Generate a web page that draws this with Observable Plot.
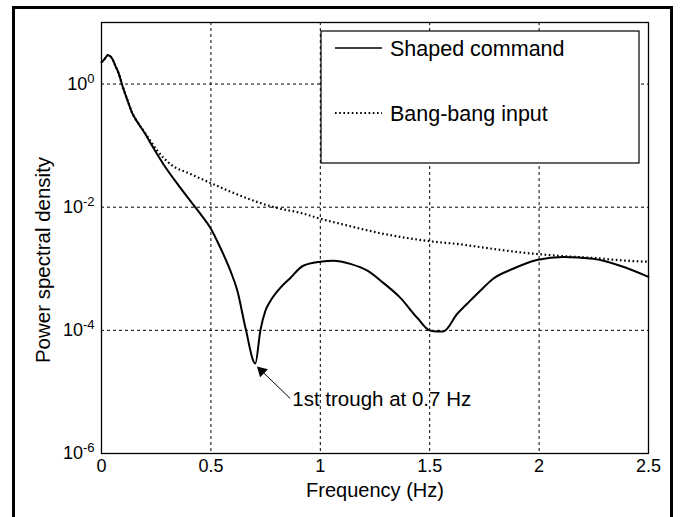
<!DOCTYPE html>
<html><head><meta charset="utf-8">
<script src="https://cdn.jsdelivr.net/npm/d3@7"></script>
<script src="https://cdn.jsdelivr.net/npm/@observablehq/plot@0.6"></script>
<style>
html,body{margin:0;padding:0;background:#fff;overflow:hidden;}
#wrap{position:relative;width:681px;height:517px;}
#border{position:absolute;left:12px;top:6px;width:655px;height:540px;border:3px solid #000;pointer-events:none;}
</style></head>
<body><div id="wrap"><div id="chart"></div><div id="border"></div></div>
<script>
// ---- data ----
const freqShaped = [0, 0.01, 0.03, 0.05, 0.064, 0.078, 0.096, 0.12, 0.14, 0.17, 0.2, 0.224, 0.283, 0.347, 0.406, 0.452, 0.498, 0.543, 0.589, 0.621, 0.658, 0.703, 0.726, 0.749, 0.772, 0.817, 0.863, 0.922, 1.0, 1.06, 1.137, 1.215, 1.288, 1.365, 1.443, 1.502, 1.534, 1.562, 1.626, 1.671, 1.731, 1.79, 1.881, 1.995, 2.11, 2.247, 2.37, 2.5];
const psdShaped = [2.27, 2.45, 2.95, 2.55, 1.96, 1.51, 0.93, 0.53, 0.34, 0.224, 0.155, 0.110, 0.050, 0.0239, 0.0127, 0.0078, 0.0046, 0.0022, 9.3e-4, 4.4e-4, 1.1e-4, 2.9e-5, 9.9e-5, 2.08e-4, 3.0e-4, 4.9e-4, 7.1e-4, 1.12e-3, 1.30e-3, 1.35e-3, 1.20e-3, 9.3e-4, 5.9e-4, 3.4e-4, 1.6e-4, 9.9e-5, 9.6e-5, 9.6e-5, 1.86e-4, 2.7e-4, 4.4e-4, 6.9e-4, 1.0e-3, 1.40e-3, 1.56e-3, 1.45e-3, 1.12e-3, 7.4e-4];
const freqBang = [0, 0.01, 0.03, 0.05, 0.064, 0.078, 0.096, 0.12, 0.14, 0.17, 0.2, 0.224, 0.256, 0.315, 0.406, 0.498, 0.603, 0.726, 0.804, 0.909, 1.0, 1.091, 1.288, 1.502, 1.639, 1.75, 1.945, 2.096, 2.247, 2.402, 2.5];
const psdBang = [2.27, 2.45, 2.95, 2.55, 1.96, 1.51, 0.93, 0.53, 0.34, 0.226, 0.16, 0.119, 0.082, 0.050, 0.0347, 0.0248, 0.0171, 0.0117, 0.0097, 0.0081, 0.0065, 0.0054, 0.0037, 0.0028, 0.0025, 0.0022, 0.0018, 0.00162, 0.0015, 0.00135, 0.0013];

const seriesNames = ["Shaped command", "Bang-bang input"];
const xTicks = [0, 0.5, 1, 1.5, 2, 2.5];
const xTickLabels = ["0", "0.5", "1", "1.5", "2", "2.5"];
const xGrid = [0.5, 1, 1.5, 2];
const yTicks = [1e-6, 1e-4, 1e-2, 1];
const yTickExponents = ["-6", "-4", "-2", "0"];
const yGrid = [1e-4, 1e-2, 1];
const xLabel = "Frequency (Hz)";
const yLabel = "Power spectral density";
// annotation: text anchor, arrow start, arrow head
const annoText = "1st trough at 0.7 Hz";
const annoTextPos = {x: 0.872, y: 7.5e-6};
const annoArrowFrom = {x: 0.863, y: 7.8e-6};
const annoArrowHead = {x: 0.732, y: 2.19e-5};

const shaped = freqShaped.map((f, i) => ({f, p: psdShaped[i]}));
const bang = freqBang.map((f, i) => ({f, p: psdBang[i]}));

const FONT = "'Liberation Sans', Arial, Helvetica, sans-serif";
const DOTS = "1.6,2.6";

const chart = Plot.plot({
  width: 681, height: 517,
  marginLeft: 101, marginRight: 33, marginTop: 22, marginBottom: 64,
  style: {fontFamily: FONT, fontSize: "18px", color: "#000", background: "transparent"},
  x: {domain: [0, 2.5]},
  y: {type: "log", domain: [1e-6, 10]},
  marks: [
    Plot.gridX(xGrid, {stroke: "#000", strokeOpacity: 1, strokeWidth: 1, strokeDasharray: "3,3"}),
    Plot.gridY(yGrid, {stroke: "#000", strokeOpacity: 1, strokeWidth: 1, strokeDasharray: "3,3"}),
    Plot.line(bang, {x: "f", y: "p", stroke: "#000", strokeWidth: 2.2, strokeDasharray: DOTS, strokeLinecap: "butt", curve: "monotone-x"}),
    Plot.line(shaped, {x: "f", y: "p", stroke: "#000", strokeWidth: 2, curve: "monotone-x"}),
    Plot.frame({stroke: "#000", strokeWidth: 1.3}),
    Plot.axisX(xTicks, {tickSize: 0, tickPadding: 6, fontSize: 18, label: null,
      tickFormat: d => xTickLabels[xTicks.indexOf(d)]}),
    Plot.axisY(yTicks, {tickSize: 0, tickPadding: 7, fontSize: 18, label: null,
      tickFormat: d => "10^" + yTickExponents[yTicks.indexOf(d)]}),
    Plot.link([annoArrowFrom], {x1: "x", y1: "y", x2: () => annoArrowHead.x, y2: () => annoArrowHead.y, stroke: "#000", strokeWidth: 1}),
    Plot.dot([annoArrowHead], {x: "x", y: "y", symbol: "triangle", r: 4.2, fill: "#000", stroke: "none", rotate: -46}),
    Plot.text([annoTextPos], {x: "x", y: "y", text: () => annoText, textAnchor: "start", fontSize: 20.5, fill: "#000"})
  ]
});
document.getElementById("chart").appendChild(chart);

const svg = d3.select(chart);
// superscripts on y tick labels
svg.selectAll('g[aria-label="y-axis tick label"] text').each(function() {
  const t = d3.select(this);
  const s = t.text();
  const [base, exp] = s.split("^");
  t.text(null);
  t.append("tspan").text(base);
  t.append("tspan").attr("dy", "-0.55em").attr("font-size", "13px").text(exp);
});

// axis titles
svg.append("text")
  .attr("transform", "translate(50,260) rotate(-90)")
  .attr("text-anchor", "middle").attr("font-size", 20.5).attr("font-family", FONT).attr("fill", "#000")
  .text(yLabel);
svg.append("text")
  .attr("x", 375).attr("y", 497)
  .attr("text-anchor", "middle").attr("font-size", 20).attr("font-family", FONT).attr("fill", "#000")
  .text(xLabel);

// legend box
const lg = svg.append("g");
lg.append("rect").attr("x", 321).attr("y", 31).attr("width", 318).attr("height", 132)
  .attr("fill", "#fff").attr("stroke", "#000").attr("stroke-width", 1.2);
const rowsY = [48, 113];
seriesNames.forEach((name, i) => {
  lg.append("line").attr("x1", 335).attr("x2", 382).attr("y1", rowsY[i]).attr("y2", rowsY[i])
    .attr("stroke", "#000").attr("stroke-width", i === 0 ? 1.5 : 2.2)
    .attr("stroke-dasharray", i === 0 ? null : DOTS);
  lg.append("text").attr("x", 390).attr("y", rowsY[i]).attr("dy", "0.35em")
    .attr("text-anchor", "start")
    .attr("font-size", 21.5).attr("font-family", FONT).attr("fill", "#000").text(name);
});
</script></body></html>
